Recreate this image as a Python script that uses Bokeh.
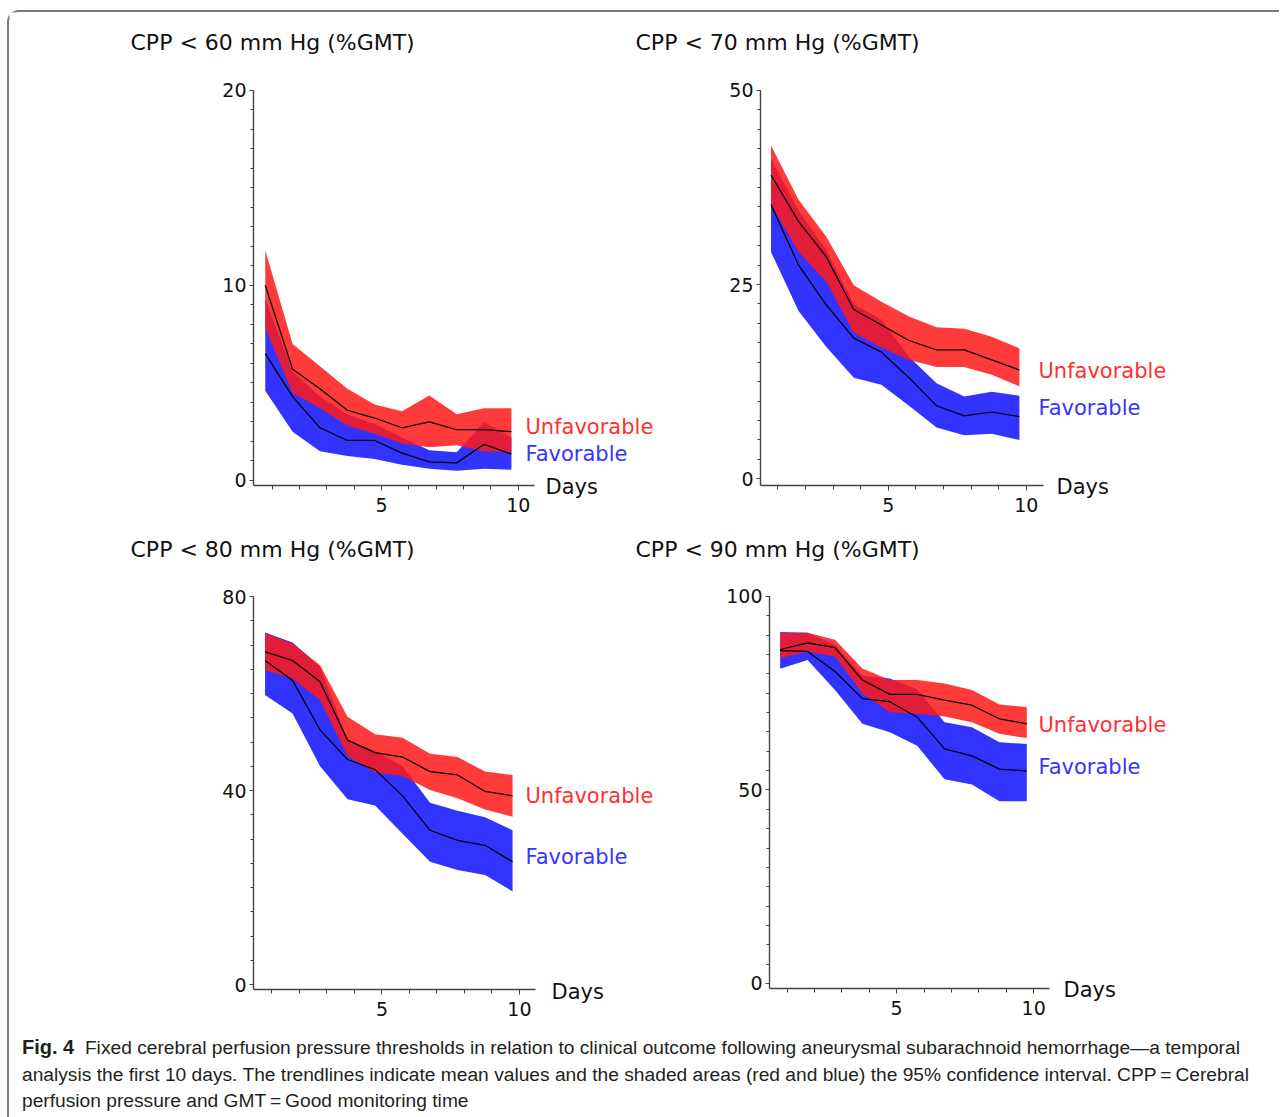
from bokeh.plotting import figure
from bokeh.models import FixedTicker, Label, Div, Range1d, LinearAxis
from bokeh.layouts import column
from bokeh.embed import file_html
from bokeh.resources import INLINE

# ---------------- data ----------------
days = [0.75, 1.75, 2.75, 3.75, 4.75, 5.75, 6.75, 7.75, 8.75, 9.75]

# CPP < 60 mm Hg
p60_unf_mean = [10.0, 5.7, 4.7, 3.6, 3.2, 2.7, 3.0, 2.6, 2.6, 2.5]
p60_unf_hi = [11.8, 7.0, 5.85, 4.7, 3.9, 3.55, 4.35, 3.4, 3.7, 3.7]
p60_unf_lo = [7.8, 4.5, 3.7, 2.8, 2.4, 1.9, 1.7, 1.8, 1.5, 1.45]
p60_fav_mean = [6.5, 4.3, 2.7, 2.05, 2.05, 1.4, 0.95, 0.9, 1.85, 1.35]
p60_fav_hi = [9.3, 5.6, 4.3, 3.4, 2.9, 2.2, 1.55, 1.45, 3.0, 2.2]
p60_fav_lo = [4.6, 2.5, 1.5, 1.25, 1.1, 0.8, 0.6, 0.5, 0.6, 0.55]

# CPP < 70 mm Hg
p70_unf_mean = [39.1, 33.1, 28.6, 21.8, 19.8, 17.8, 16.6, 16.6, 15.3, 14.0]
p70_unf_hi = [42.9, 35.9, 31.2, 24.9, 22.8, 20.9, 19.5, 19.3, 18.3, 16.8]
p70_unf_lo = [35.3, 29.2, 25.4, 18.8, 16.9, 15.3, 14.4, 14.4, 13.4, 11.9]
p70_fav_mean = [35.3, 27.5, 22.4, 18.1, 16.3, 13.0, 9.4, 8.1, 8.6, 8.0]
p70_fav_hi = [41.2, 34.5, 29.5, 22.5, 20.5, 15.7, 12.3, 10.6, 11.2, 10.7]
p70_fav_lo = [29.2, 21.6, 17.0, 13.0, 12.1, 9.4, 6.6, 5.6, 5.8, 5.0]

# CPP < 80 mm Hg
p80_unf_mean = [68.6, 66.8, 62.4, 50.4, 47.8, 46.9, 43.9, 43.2, 39.8, 38.9]
p80_unf_hi = [72.4, 70.3, 65.8, 55.2, 51.6, 50.9, 47.6, 46.9, 43.9, 43.2]
p80_unf_lo = [64.8, 63.1, 58.6, 47.1, 43.7, 43.0, 40.1, 38.4, 36.1, 34.6]
p80_fav_mean = [66.8, 62.7, 52.5, 46.4, 44.3, 38.9, 31.8, 29.7, 28.7, 25.3]
p80_fav_hi = [72.6, 70.5, 65.5, 50.5, 48.1, 45.0, 37.5, 35.8, 34.5, 31.8]
p80_fav_lo = [59.7, 55.9, 45.0, 38.2, 36.9, 31.1, 25.3, 23.6, 22.6, 19.2]

# CPP < 90 mm Hg
p90_unf_mean = [86.3, 88.0, 86.8, 78.4, 74.7, 74.7, 73.2, 71.9, 68.4, 67.1]
p90_unf_hi = [90.6, 90.6, 88.8, 81.4, 78.4, 78.4, 77.5, 75.8, 72.1, 71.4]
p90_unf_lo = [84.1, 85.8, 84.5, 74.9, 70.1, 69.7, 69.0, 67.5, 64.5, 63.4]
p90_fav_mean = [86.0, 85.8, 80.6, 73.6, 72.8, 68.8, 60.6, 58.8, 55.4, 54.9]
p90_fav_hi = [90.8, 90.6, 87.5, 79.5, 78.8, 76.0, 67.5, 66.2, 62.3, 61.9]
p90_fav_lo = [81.3, 83.6, 75.8, 67.1, 64.9, 61.4, 52.8, 51.4, 47.1, 47.1]

titles = ["CPP < 60 mm Hg (%GMT)", "CPP < 70 mm Hg (%GMT)",
          "CPP < 80 mm Hg (%GMT)", "CPP < 90 mm Hg (%GMT)"]
x_major = [5, 10]
x_minor = [1, 2, 3, 4, 5, 6, 7, 8, 9, 10]
caption_bold = "Fig. 4"
caption_lines = [
    "Fixed cerebral perfusion pressure thresholds in relation to clinical outcome following aneurysmal subarachnoid hemorrhage\u2014a temporal",
    "analysis the first 10 days. The trendlines indicate mean values and the shaded areas (red and blue) the 95% confidence interval. CPP\u2009=\u2009Cerebral",
    "perfusion pressure and GMT\u2009=\u2009Good monitoring time",
]

RED = "#ff1a1a"
BLUE = "#3333ff"
RED_TXT = "#ff3030"
BLUE_TXT = "#3535ff"
FONT = "DejaVu Sans"
AX = "#444444"

# one canvas holding the four panels, each with its own pair of ranges
OX, OY, W, H = 9, 12, 1260, 1017

panels = [
    dict(name="default", title=titles[0], corner=(253, 485), x=(0.32, 10.61, 27.35), y=(-0.26, 20, 19.5),
         unf=(p60_unf_mean, p60_unf_hi, p60_unf_lo), fav=(p60_fav_mean, p60_fav_hi, p60_fav_lo),
         yticks=[0, 10, 20], yminor=list(range(0, 21)),
         pos=dict(title=(130, 42), days=(545, 486), unf=(525, 426), fav=(525, 453))),
    dict(name="p70", title=titles[1], corner=(760, 485), x=(0.37, 10.64, 27.6), y=(-0.86, 50, 7.77),
         unf=(p70_unf_mean, p70_unf_hi, p70_unf_lo), fav=(p70_fav_mean, p70_fav_hi, p70_fav_lo),
         yticks=[0, 25, 50],
         yminor=[0, 2.5, 5, 7.5, 10, 12.5, 15, 17.5, 20, 22.5, 25, 27.5, 30, 32.5, 35, 37.5, 40, 42.5, 45, 47.5, 50],
         pos=dict(title=(635, 42), days=(1056, 486), unf=(1038, 370), fav=(1038, 407))),
    dict(name="p80", title=titles[2], corner=(253, 989), x=(0.33, 10.6, 27.5), y=(-1.03, 80, 4.85),
         unf=(p80_unf_mean, p80_unf_hi, p80_unf_lo), fav=(p80_fav_mean, p80_fav_hi, p80_fav_lo),
         yticks=[0, 40, 80], yminor=list(range(0, 81, 5)),
         pos=dict(title=(130, 549), days=(551, 991), unf=(525, 795), fav=(525, 856))),
    dict(name="p90", title=titles[3], corner=(769, 988), x=(0.36, 10.58, 27.4), y=(-1.3, 100, 3.87),
         unf=(p90_unf_mean, p90_unf_hi, p90_unf_lo), fav=(p90_fav_mean, p90_fav_hi, p90_fav_lo),
         yticks=[0, 50, 100], yminor=list(range(0, 101, 5)),
         pos=dict(title=(635, 549), days=(1063, 989), unf=(1038, 724), fav=(1038, 766))),
]


def mappers(pn):
    left, bottom = pn["corner"]
    x0, x1, sx = pn["x"]
    y0, y1, sy = pn["y"]
    return (lambda px: x0 + (px - left) / sx), (lambda py: y0 + (bottom - py) / sy)


X1, Y1 = mappers(panels[0])
p = figure(frame_width=W, frame_height=H,
           x_range=Range1d(X1(OX), X1(OX + W)), y_range=Range1d(Y1(OY + H), Y1(OY)),
           min_border=0, min_border_left=0, min_border_right=0,
           min_border_top=0, min_border_bottom=0,
           output_backend="svg", toolbar_location=None, tools="")
p.title.visible = False
p.outline_line_color = None
p.xgrid.visible = False
p.ygrid.visible = False
p.background_fill_color = "white"
p.border_fill_color = "white"


def style_axis(ax):
    ax.axis_line_color = AX
    ax.axis_line_width = 1.4
    ax.major_tick_line_color = AX
    ax.minor_tick_line_color = AX
    ax.major_tick_in = 0
    ax.minor_tick_in = 0
    ax.major_label_text_font = FONT
    ax.major_label_text_font_size = "19px"
    ax.major_label_text_color = "#111111"


for pn in panels:
    X, Y = mappers(pn)
    nm = pn["name"]
    if nm != "default":
        p.extra_x_ranges[nm] = Range1d(X(OX), X(OX + W))
        p.extra_y_ranges[nm] = Range1d(Y(OY + H), Y(OY))
    x0, x1, _ = pn["x"]
    y0, y1, _ = pn["y"]

    umean, uhi, ulo = pn["unf"]
    fmean, fhi, flo = pn["fav"]
    rn = dict(x_range_name=nm, y_range_name=nm)
    p.varea(x=days, y1=flo, y2=fhi, fill_color=BLUE, fill_alpha=1.0, **rn)
    p.varea(x=days, y1=ulo, y2=uhi, fill_color=RED, fill_alpha=0.86, **rn)
    p.line(days, fmean, line_color="black", line_width=1.25, **rn)
    p.line(days, umean, line_color="black", line_width=1.25, **rn)

    if nm == "default":
        xa, ya = p.xaxis[0], p.yaxis[0]
    else:
        xa = LinearAxis(**rn)
        ya = LinearAxis(**rn)
        p.add_layout(xa, "below")
        p.add_layout(ya, "left")
    xa.ticker = FixedTicker(ticks=x_major, minor_ticks=x_minor)
    ya.ticker = FixedTicker(ticks=pn["yticks"], minor_ticks=pn["yminor"])
    xa.fixed_location = y0
    ya.fixed_location = x0
    xa.bounds = (x0, x1)
    ya.bounds = (y0, y1)
    style_axis(xa)
    style_axis(ya)
    xa.major_tick_out = 5
    xa.minor_tick_out = 4
    xa.major_label_standoff = 7
    ya.major_tick_out = 4
    ya.minor_tick_out = 3
    ya.major_label_standoff = 3

    pos = pn["pos"]
    items = [
        (pos["title"], pn["title"], "#111111", "22px"),
        (pos["days"], "Days", "#111111", "21px"),
        (pos["unf"], "Unfavorable", RED_TXT, "21px"),
        (pos["fav"], "Favorable", BLUE_TXT, "21px"),
    ]
    for (px, py), txt, col, fs in items:
        p.add_layout(Label(x=X(px), y=Y(py), text=txt, text_font=FONT,
                           text_font_size=fs, text_color=col,
                           text_align="left", text_baseline="middle", **rn))

cap_html = ("<b style='font-size:20px'>" + caption_bold + "</b>&nbsp; " + caption_lines[0] +
            "<br>" + caption_lines[1] + "<br>" + caption_lines[2])
cap = Div(text=cap_html, width=1260, height=84,
          styles={"font-family": "'Liberation Sans Narrow', 'Arial Narrow', 'Liberation Sans', sans-serif",
                  "font-size": "19.2px", "line-height": "26.5px", "color": "#231f20",
                  "padding-left": "8px", "padding-top": "0px", "white-space": "nowrap"})

layout = column(p, cap,
                styles={"border-left": "2px solid #7a7a7a", "border-top": "2px solid #7a7a7a",
                        "border-top-left-radius": "12px", "margin-top": "10px",
                        "margin-left": "7px"})

open("out.html", "w").write(file_html(layout, INLINE))
